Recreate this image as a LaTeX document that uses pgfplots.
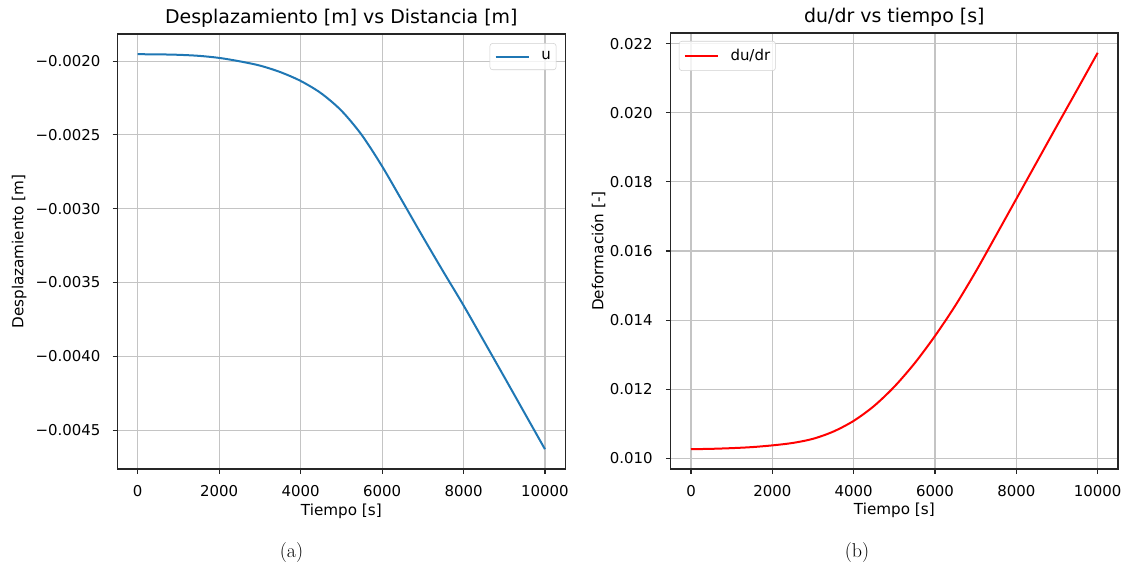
\documentclass[border=0pt]{standalone}
\usepackage{fontspec}
\usepackage{pgfplots}
\pgfplotsset{compat=1.18}
\newfontfamily\dejavu{DejaVu Sans}
\definecolor{mplblue}{HTML}{1F77B4}
\definecolor{gridgray}{HTML}{C4C4C4}
\definecolor{legframe}{HTML}{D0D0D0}

\pgfplotsset{mplstyle/.style={
  scale only axis, anchor=north west,
  scaled ticks=false,
  axis line style={black!85, line width=0.8pt},
  grid=major, grid style={gridgray, line width=0.8pt},
  tick align=outside, xtick pos=bottom, ytick pos=left,
  major tick length=3.6pt, tick style={black!85, line width=0.8pt},
  xmin=-500, xmax=10500,
  xtick={0,2000,4000,6000,8000,10000},
  xticklabels={0,2000,4000,6000,8000,10000},
  tick label style={font=\dejavu\fontsize{11.2}{13}\selectfont},
  xticklabel style={anchor=base, inner sep=0pt, yshift=-16.9pt},
  label style={font=\dejavu\fontsize{11.4}{13}\selectfont},
  xlabel style={at={(axis description cs:0.5,0)}, anchor=base, yshift=-34.5pt},
  title style={font=\dejavu\fontsize{14.2}{16}\selectfont,
    at={(axis description cs:0.5,1)}, anchor=base, yshift=2pt},
  legend style={font=\dejavu\fontsize{11.2}{13}\selectfont, draw=legframe,
    rounded corners=2pt, fill=white, fill opacity=0.8, text opacity=1,
    inner xsep=2pt, inner ysep=4pt},
  legend cell align=left,
  legend image code/.code={\draw[#1] (1.5pt,0pt) -- (26.5pt,0pt); \path (0pt,0pt) (33pt,0pt);},
}}

\begin{document}
\begin{tikzpicture}
\path[use as bounding box] (0,0) rectangle (841.5pt,-424.5pt);

% (a) displacement
\begin{axis}[mplstyle,
  at={(88pt,-25.5pt)}, width=336pt, height=326.25pt,
  ymin=-0.004764, ymax=-0.001816,
  ytick={-0.0045,-0.004,-0.0035,-0.003,-0.0025,-0.002},
  yticklabels={−0.0045,−0.0040,−0.0035,−0.0030,−0.0025,−0.0020},
  yticklabel style={anchor=east, inner sep=0pt, xshift=-9pt},
  title={Desplazamiento [m] vs Distancia [m]},
  xlabel={Tiempo [s]}, ylabel={Desplazamiento [m]},
  ylabel style={at={(axis description cs:-0.2095,0.5)}, anchor=base},
  legend style={at={(0.98,0.979)}, anchor=north east},
]
\addplot[mplblue, line width=1.5pt, smooth] coordinates {
  (0,-0.001953)(500,-0.001954)(1000,-0.001957)(1500,-0.001964)
  (2000,-0.001978)(2500,-0.002001)(3000,-0.002030)(3500,-0.002074)
  (4000,-0.002134)(4500,-0.002217)(5000,-0.002335)(5500,-0.002500)
  (6000,-0.002712)(6500,-0.002950)(7000,-0.003190)(7500,-0.003425)
  (8000,-0.003655)(8500,-0.003897)(9000,-0.004140)(9500,-0.004385)
  (10000,-0.004630)
};
\addlegendentry{u}
\end{axis}

% (b) strain
\begin{axis}[mplstyle,
  at={(503pt,-24.75pt)}, width=335.5pt, height=327pt,
  ymin=0.009686, ymax=0.022314,
  ytick={0.010,0.012,0.014,0.016,0.018,0.020,0.022},
  yticklabels={0.010,0.012,0.014,0.016,0.018,0.020,0.022},
  yticklabel style={anchor=east, inner sep=0pt, xshift=-9.75pt},
  title={du/dr vs tiempo [s]},
  xlabel={Tiempo [s]}, ylabel={Deformación [-]},
  ylabel style={at={(axis description cs:-0.1505,0.5)}, anchor=base},
  legend style={at={(0.0185,0.9817)}, anchor=north west},
]
\addplot[red, line width=1.5pt, smooth] coordinates {
  (0,0.01026)(500,0.01027)(1000,0.01029)(1500,0.01032)
  (2000,0.01037)(2500,0.01044)(3000,0.01056)(3500,0.01077)
  (4000,0.01108)(4500,0.01151)(5000,0.01207)(5500,0.01275)
  (6000,0.01354)(6500,0.01442)(7000,0.01540)(7500,0.01645)
  (8000,0.01751)(8500,0.01857)(9000,0.01963)(9500,0.02068)
  (10000,0.02174)
};
\addlegendentry{du/dr}
\end{axis}

\node[font=\fontsize{15}{17}\selectfont, anchor=base] at (218.6pt,-418pt) {(a)};
\node[font=\fontsize{15}{17}\selectfont, anchor=base] at (642.7pt,-418pt) {(b)};
\end{tikzpicture}
\end{document}
